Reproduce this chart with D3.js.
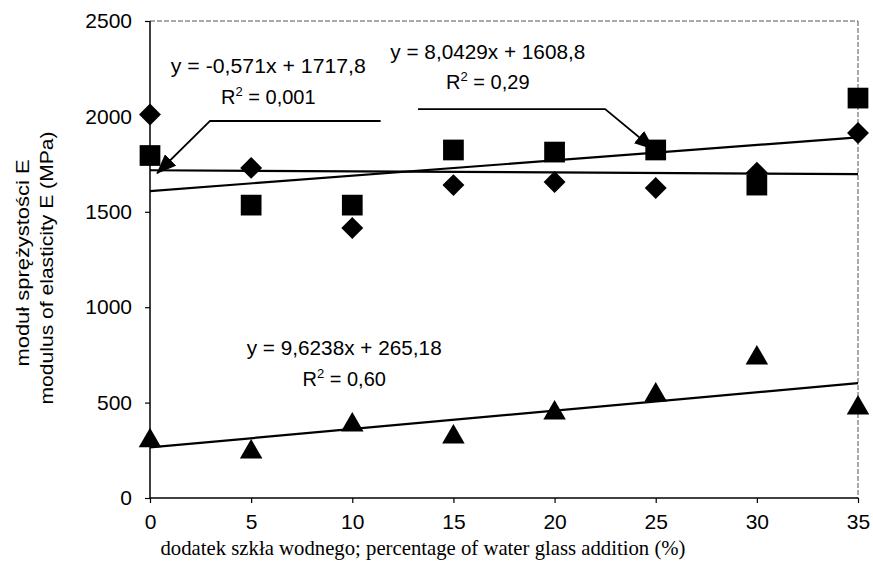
<!DOCTYPE html>
<html lang="pl">
<head>
<meta charset="utf-8">
<title>Moduł sprężystości</title>
<script src="https://d3js.org/d3.v7.min.js"></script>
<style>
  body { margin: 0; background: #fff; }
  text { font-family: "Liberation Sans", Arial, sans-serif; fill: #000; }
</style>
</head>
<body>
<div id="chart"></div>
<script>
// water glass addition (%)
var xValues = [0, 5, 10, 15, 20, 25, 30, 35]
// modulus of elasticity E (MPa), three series
var diamondValues = [2010, 1730, 1415, 1640, 1656, 1625, 1705, 1913]
var squareValues = [1795, 1535, 1535, 1824, 1813, 1824, 1640, 2096]
var triangleValues = [300, 241, 383, 320, 445, 540, 734, 472]
// trend lines y = a*x + b
var trendSlopes = [-0.571, 8.0429, 9.6238]
var trendIntercepts = [1717.8, 1608.8, 265.18]
var equationLabels = ["y = -0,571x + 1717,8", "y = 8,0429x + 1608,8", "y = 9,6238x + 265,18"]
var r2Labels = ["0,001", "0,29", "0,60"]
var xTicks = [0, 5, 10, 15, 20, 25, 30, 35]
var yTicks = [0, 500, 1000, 1500, 2000, 2500]

var width = 873, height = 578
var x = d3.scaleLinear().domain([0, 35]).range([150, 858])
var y = d3.scaleLinear().domain([0, 2500]).range([498, 21])

var svg = d3.select("#chart").append("svg")
    .attr("width", width)
    .attr("height", height)

// arrowhead
svg.append("defs").append("marker")
    .attr("id", "arrow")
    .attr("markerUnits", "userSpaceOnUse")
    .attr("viewBox", "0 0 20 16")
    .attr("refX", 19).attr("refY", 8)
    .attr("markerWidth", 20).attr("markerHeight", 16)
    .attr("orient", "auto")
    .append("path")
    .attr("d", "M0,0 L20,8 L0,16 Z")
    .attr("fill", "#000")

// plot frame (top and right are faint dashed)
svg.append("line")
    .attr("x1", x(0)).attr("x2", x(35))
    .attr("y1", y(2500)).attr("y2", y(2500))
    .attr("stroke", "#555").attr("stroke-width", 1)
    .attr("stroke-dasharray", "5,2")
svg.append("line")
    .attr("x1", x(35)).attr("x2", x(35))
    .attr("y1", y(2500)).attr("y2", y(0))
    .attr("stroke", "#555").attr("stroke-width", 1)
    .attr("stroke-dasharray", "5,2")

svg.append("g")
    .attr("transform", "translate(0," + y(0) + ")")
    .call(d3.axisBottom(x).tickValues(xTicks).tickSize(5).tickPadding(11))
svg.append("g")
    .attr("transform", "translate(" + x(0) + ",0)")
    .call(d3.axisLeft(y).tickValues(yTicks).tickFormat(d3.format("d")).tickSize(5).tickPadding(13))
svg.selectAll(".domain").remove()
svg.selectAll(".tick line").attr("stroke", "#000").attr("stroke-width", 1.2)
svg.selectAll(".tick text")
    .style("font-family", "'Liberation Sans', Arial, sans-serif")
    .style("font-size", "21px")
    .attr("fill", "#000")
svg.append("line")
    .attr("x1", x(0)).attr("x2", x(35))
    .attr("y1", y(0)).attr("y2", y(0))
    .attr("stroke", "#000").attr("stroke-width", 1.5)
svg.append("line")
    .attr("x1", x(0)).attr("x2", x(0))
    .attr("y1", y(0)).attr("y2", y(2500))
    .attr("stroke", "#000").attr("stroke-width", 1.5)

// trend lines
trendSlopes.forEach(function(a, i) {
    var b = trendIntercepts[i]
    svg.append("line")
        .attr("x1", x(0)).attr("y1", y(b))
        .attr("x2", x(35)).attr("y2", y(a * 35 + b))
        .attr("stroke", "#000")
        .attr("stroke-width", 2.2)
})

// markers
function points(values) {
    return values.map(function(v, i) { return [xValues[i], v] })
}
svg.selectAll(".diamond")
    .data(points(diamondValues))
    .enter().append("path")
    .attr("d", d3.symbol().type(d3.symbolSquare).size(240))
    .attr("transform", function(d) {
        return "translate(" + x(d[0]) + "," + y(d[1]) + ") rotate(45)"
    })
    .attr("fill", "#000")
svg.selectAll(".square")
    .data(points(squareValues))
    .enter().append("path")
    .attr("d", d3.symbol().type(d3.symbolSquare).size(430))
    .attr("transform", function(d) {
        return "translate(" + x(d[0]) + "," + y(d[1]) + ")"
    })
    .attr("fill", "#000")
svg.selectAll(".triangle")
    .data(points(triangleValues))
    .enter().append("path")
    .attr("d", d3.symbol().type(d3.symbolTriangle).size(220))
    .attr("transform", function(d) {
        return "translate(" + x(d[0]) + "," + y(d[1]) + ")"
    })
    .attr("fill", "#000")

// callout lines (data units)
var callouts = [
    [[11.4, 1976], [2.97, 1976], [0.35, 1702]],
    [[13.25, 2038], [22.5, 2038], [24.9, 1828]]
]
callouts.forEach(function(c) {
    svg.append("path")
        .attr("d", d3.line().x(function(d) { return x(d[0]) }).y(function(d) { return y(d[1]) })(c))
        .attr("fill", "none")
        .attr("stroke", "#000")
        .attr("stroke-width", 1.8)
        .attr("marker-end", "url(#arrow)")
})

// equations: [x, y of equation, y of R²] in data units
var eqPos = [[5.85, 2227, 2065], [16.7, 2301, 2144], [9.6, 749, 587]]
eqPos.forEach(function(p, i) {
    svg.append("text")
        .attr("x", x(p[0])).attr("y", y(p[1]))
        .attr("text-anchor", "middle")
        .style("font-size", "20px")
        .attr("textLength", 195)
        .attr("lengthAdjust", "spacingAndGlyphs")
        .text(equationLabels[i])
    var r = svg.append("text")
        .attr("x", x(p[0])).attr("y", y(p[2]))
        .attr("text-anchor", "middle")
        .style("font-size", "20px")
    r.append("tspan").text("R")
    r.append("tspan").text("2").attr("dy", -8).style("font-size", "13px")
    r.append("tspan").text(" = " + r2Labels[i]).attr("dy", 8)
})

// axis titles
svg.append("text")
    .attr("transform", "translate(29,263) rotate(-90)")
    .attr("text-anchor", "middle")
    .style("font-size", "18px")
    .attr("textLength", 207)
    .attr("lengthAdjust", "spacingAndGlyphs")
    .text("moduł sprężystości E")
svg.append("text")
    .attr("transform", "translate(53,268) rotate(-90)")
    .attr("text-anchor", "middle")
    .style("font-size", "18px")
    .attr("textLength", 273)
    .attr("lengthAdjust", "spacingAndGlyphs")
    .text("modulus of elasticity E (MPa)")
svg.append("text")
    .attr("x", 423).attr("y", 555)
    .attr("text-anchor", "middle")
    .style("font-family", "'Liberation Serif', 'Times New Roman', serif")
    .style("font-size", "21px")
    .attr("textLength", 525)
    .attr("lengthAdjust", "spacingAndGlyphs")
    .text("dodatek szkła wodnego; percentage of water glass addition (%)")
</script>
</body>
</html>
